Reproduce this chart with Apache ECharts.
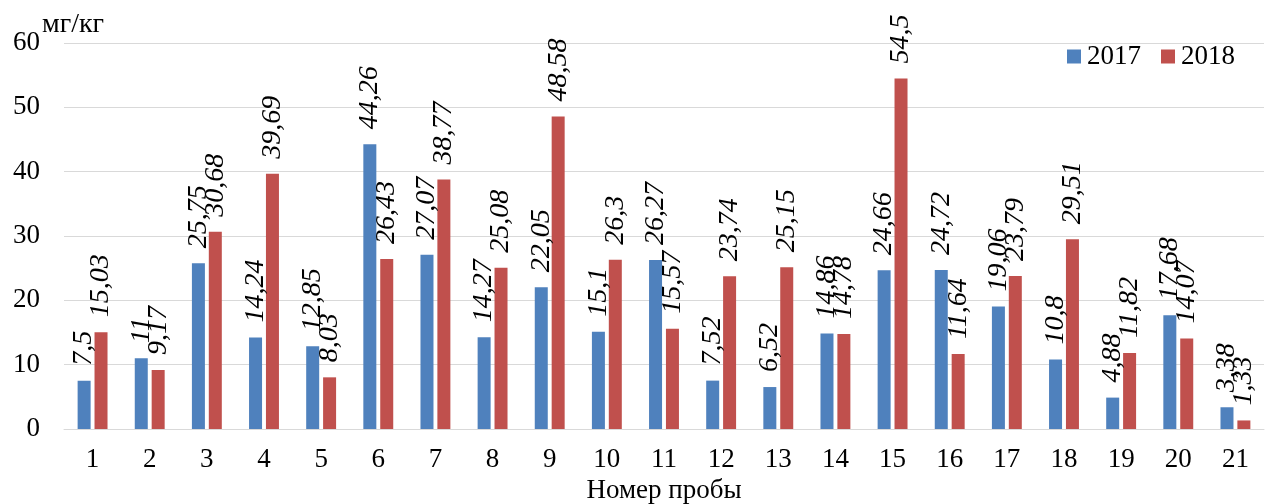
<!DOCTYPE html>
<html><head><meta charset="utf-8">
<script src="https://cdn.jsdelivr.net/npm/echarts@6/dist/echarts.min.js"></script>
<style>html,body{margin:0;padding:0;background:#fff}#c{width:1275px;height:504px}</style>
</head><body><div id="c"></div>
<script>
const categories = ['1','2','3','4','5','6','7','8','9','10','11','12','13','14','15','16','17','18','19','20','21'];
const values2017 = [7.5, 11, 25.75, 14.24, 12.85, 44.26, 27.07, 14.27, 22.05, 15.1, 26.27, 7.52, 6.52, 14.86, 24.66, 24.72, 19.06, 10.8, 4.88, 17.68, 3.38];
const values2018 = [15.03, 9.17, 30.68, 39.69, 8.03, 26.43, 38.77, 25.08, 48.58, 26.3, 15.57, 23.74, 25.15, 14.78, 54.5, 11.64, 23.79, 29.51, 11.82, 14.07, 1.33];
const yTicks = [0, 10, 20, 30, 40, 50, 60];
const yUnit = 'мг/кг';

const font = 'Liberation Serif';
const lbl = {
  show: true, position: 'top', rotate: 90, align: 'left', verticalAlign: 'middle', distance: 15,
  fontFamily: font, fontStyle: 'italic', fontSize: 28, color: '#000',
  formatter: p => String(p.value).replace('.', ',')
};
const chart = echarts.init(document.getElementById('c'));
chart.setOption({
  animation: false,
  textStyle: { fontFamily: font },
  grid: { left: 64, right: 11, top: 43, bottom: 75, containLabel: false, outerBoundsMode: 'none' },
  graphic: [{
    type: 'text', left: 42, top: 11, silent: true,
    style: { text: yUnit, fontFamily: font, fontSize: 28, fill: '#000' }
  }],
  legend: {
    right: 40, top: 43, padding: 0, itemWidth: 14, itemHeight: 14, itemGap: 20,
    icon: 'rect', textStyle: { fontFamily: font, fontSize: 27, color: '#000', padding: [0, 0, 0, 1] },
    data: ['2017', '2018']
  },
  xAxis: {
    type: 'category', data: categories,
    name: 'Номер пробы', nameLocation: 'middle', nameGap: 44,
    nameTextStyle: { fontFamily: font, fontSize: 27, color: '#000' },
    axisLine: { lineStyle: { color: '#d9d9d9' } },
    axisTick: { show: false },
    axisLabel: { fontFamily: font, fontSize: 27, color: '#000', margin: 17 }
  },
  yAxis: {
    type: 'value', min: yTicks[0], max: yTicks[yTicks.length - 1], interval: 10,
    axisLine: { show: false }, axisTick: { show: false },
    splitLine: { lineStyle: { color: '#d9d9d9', width: 1 } },
    axisLabel: { fontFamily: font, fontSize: 27, color: '#000', margin: 24 }
  },
  series: [
    { name: '2017', type: 'bar', data: values2017, barWidth: 13, barGap: '30%',
      itemStyle: { color: '#4F81BD' }, label: lbl },
    { name: '2018', type: 'bar', data: values2018, barWidth: 13,
      itemStyle: { color: '#C0504D' }, label: lbl }
  ]
});
</script></body></html>
